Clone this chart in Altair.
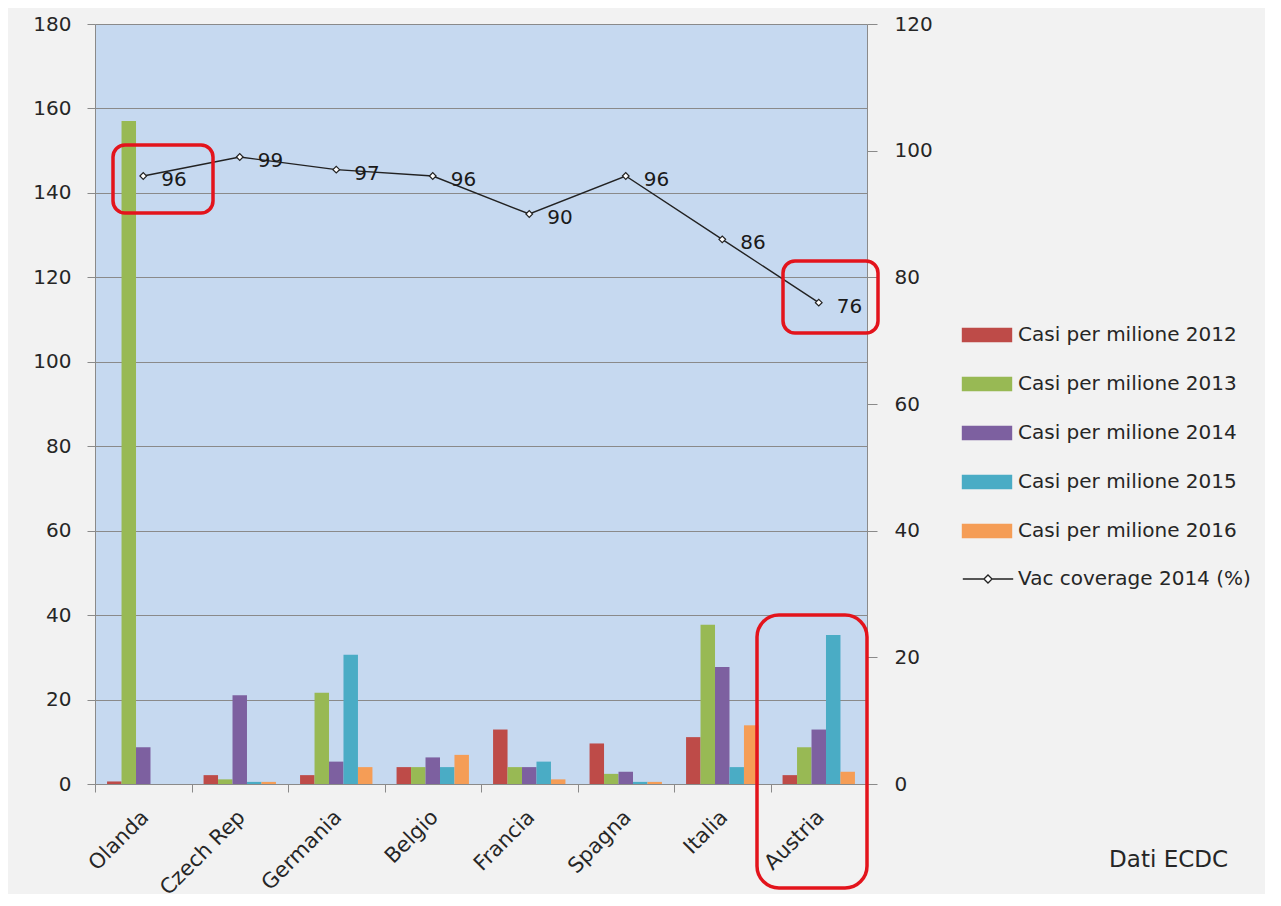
import altair as alt
import pandas as pd

countries = ["Olanda", "Czech Rep", "Germania", "Belgio", "Francia", "Spagna", "Italia", "Austria"]
series = ["Casi per milione 2012", "Casi per milione 2013", "Casi per milione 2014",
          "Casi per milione 2015", "Casi per milione 2016"]
cases_2012 = [0.6, 2.1, 2.1, 4.0, 12.9, 9.6, 11.1, 2.1]
cases_2013 = [157.0, 1.1, 21.6, 4.0, 4.0, 2.4, 37.7, 8.7]
cases_2014 = [8.7, 21.0, 5.3, 6.3, 4.0, 2.9, 27.7, 12.9]
cases_2015 = [0.0, 0.5, 30.6, 4.0, 5.3, 0.5, 4.0, 35.3]
cases_2016 = [0.0, 0.5, 4.0, 6.9, 1.1, 0.5, 13.9, 2.9]
coverage = [96, 99, 97, 96, 90, 96, 86, 76]
line_name = "Vac coverage 2014 (%)"
left_ticks = [0, 20, 40, 60, 80, 100, 120, 140, 160, 180]
right_ticks = [0, 20, 40, 60, 80, 100, 120]
source_note = ["Dati ECDC"]

bar_colors = ["#be4b48", "#98b954", "#7d60a0", "#4aacc5", "#f59d56"]
FONT = "DejaVu Sans"
TXT = "#262626"
GRID = "#8a8a8a"
W = 772
STEP = W / len(countries)
LEG_X = 868

all_cases = [cases_2012, cases_2013, cases_2014, cases_2015, cases_2016]
bars_df = pd.DataFrame([
    {"country": c, "series": s, "value": vals[i]}
    for s, vals in zip(series, all_cases)
    for i, c in enumerate(countries)
])
line_df = pd.DataFrame({"country": countries, "coverage": coverage, "name": [line_name] * len(countries)})

x_enc = alt.X("country:N", sort=countries,
              scale=alt.Scale(paddingInner=0.25, paddingOuter=0.125),
              axis=alt.Axis(title=None, labelAngle=315, labelAlign="right", labelBaseline="top",
                            labelFontSize=21, labelFont=FONT, labelColor=TXT, labelPadding=14,
                            tickOffset=-STEP / 2, labelOffset=STEP / 2 - 6, labelBound=False,
                            tickSize=8, tickColor=GRID, domainColor=GRID, grid=False))

bars = alt.Chart(bars_df).mark_bar().encode(
    x=x_enc,
    xOffset=alt.XOffset("series:N", sort=series, scale=alt.Scale(paddingInner=0, paddingOuter=0)),
    y=alt.Y("value:Q", scale=alt.Scale(domain=[0, 180], nice=False),
            axis=alt.Axis(title=None, values=left_ticks, grid=True, gridColor=GRID, gridWidth=1.2,
                          labelFontSize=20, labelFont=FONT, labelColor=TXT, labelPadding=16,
                          tickSize=8, tickColor=GRID, domainColor=GRID)),
    color=alt.Color("series:N", sort=series,
                    scale=alt.Scale(domain=series, range=bar_colors),
                    legend=alt.Legend(title=None, orient="none", legendX=LEG_X, legendY=287,
                                      symbolType="M-1.05,-0.3L1.05,-0.3L1.05,0.3L-1.05,0.3Z",
                                      symbolSize=2304, symbolStrokeWidth=0, rowPadding=15,
                                      labelFontSize=20, labelFont=FONT, labelColor=TXT,
                                      labelOffset=7, labelLimit=340)),
)

y_right = alt.Y("coverage:Q", scale=alt.Scale(domain=[0, 120], nice=False),
                axis=alt.Axis(title=None, orient="right", values=right_ticks, grid=False,
                              labelFontSize=20, labelFont=FONT, labelColor=TXT, labelPadding=17,
                              tickSize=10, tickColor=GRID, domainColor=GRID))

line_base = alt.Chart(line_df).encode(x=alt.X("country:N", sort=countries), y=y_right)
line = line_base.mark_line(strokeWidth=1.4).encode(
    stroke=alt.Stroke("name:N", scale=alt.Scale(domain=[line_name], range=["#222222"]),
                      legend=alt.Legend(title=None, orient="none", legendX=LEG_X, legendY=530,
                                        symbolType="M-1.05,0L-0.17,0M0.17,0L1.05,0M-0.17,0L0,-0.17L0.17,0L0,0.17Z",
                                        symbolSize=2304, symbolStrokeWidth=1.3, symbolFillColor="white",
                                        symbolStrokeColor="#222222",
                                        labelFontSize=20, labelFont=FONT, labelColor=TXT,
                                        labelOffset=5, labelLimit=340))
)
points = line_base.mark_point(shape="diamond", filled=True, fill="white", stroke="#222222",
                              strokeWidth=1.2, size=45, opacity=1)
labels = line_base.mark_text(align="left", baseline="middle", dx=18, dy=4, fontSize=20,
                             font=FONT, color="#1a1a1a").encode(text="coverage:Q")


def box(note, x0, x1, y0, y1, r):
    return alt.Chart(pd.DataFrame({"note": [note]})).mark_rect(
        fillOpacity=0, stroke="#e3141c", strokeWidth=3.5, cornerRadius=r
    ).encode(x=alt.value(x0), x2=alt.value(x1), y=alt.value(y0), y2=alt.value(y1))


box1 = box("Olanda", 18, 118, 121, 189, 12)
box2 = box("Austria 76", 688, 783, 237, 309, 12)
box3 = box("Austria", 662, 772, 591, 864, 22)

note = alt.Chart(pd.DataFrame({"t": source_note})).mark_text(
    fontSize=23, font=FONT, color=TXT, align="right", baseline="middle"
).encode(text="t:N", x=alt.value(1133), y=alt.value(836))

right = alt.layer(line, points, labels)

chart = alt.layer(bars, right, box1, box2, box3, note).resolve_scale(
    y="independent"
).properties(
    width=W, height=760,
    padding={"left": 87, "top": 16, "right": 398, "bottom": 110},
    autosize=alt.AutoSizeParams(type="none"),
    background="#f2f2f2",
).configure_view(fill="#c6d9f0", stroke=None)

chart.save("out.html", embed_options={"renderer": "svg", "actions": False})
